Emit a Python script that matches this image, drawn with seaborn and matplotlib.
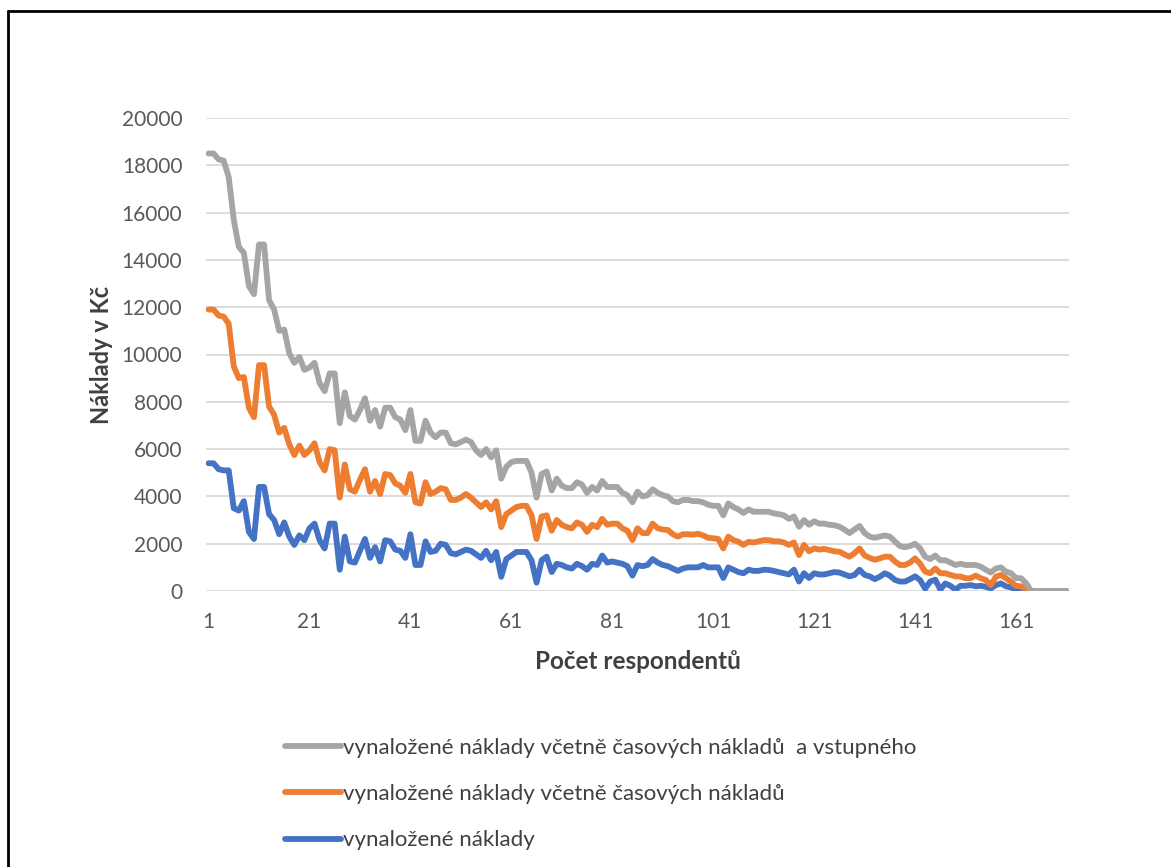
import numpy as np
import pandas as pd
import matplotlib
matplotlib.use("Agg")
import matplotlib.pyplot as plt
from matplotlib.lines import Line2D
import seaborn as sns

# ---- data ----
respondents = list(range(1, 172))

naklady_cas_vstup = [
    18500, 18500, 18250, 18200, 17500, 15700, 14550, 14300, 12900, 12550, 14650, 14650,
    12300, 11900, 11000, 11050, 10050, 9650, 9900, 9350, 9450, 9650, 8800, 8450, 9200, 9200, 7100,
    8400, 7400, 7250, 7650, 8150, 7200, 7650, 6950, 7750, 7750, 7350, 7250, 6800, 7650, 6350,
    6350, 7200, 6700, 6500, 6700, 6700, 6250, 6200, 6300, 6400, 6300, 5950, 5750,
    6000, 5650, 5950, 4750, 5250, 5450, 5500, 5500, 5500, 5000, 3950, 4950, 5050, 4250, 4750,
    4450, 4350, 4350, 4600, 4500, 4150, 4400, 4250, 4650, 4400, 4400, 4400,
    4150, 4050, 3750, 4200, 4000, 4050, 4300, 4150, 4050, 4000, 3800, 3750, 3850, 3850, 3800,
    3800, 3750, 3650, 3600, 3600, 3200, 3700, 3550, 3450, 3300, 3450, 3350, 3350,
    3350, 3350, 3280, 3250, 3200, 3050, 3150, 2720, 3000, 2800, 2950, 2850, 2850, 2800, 2780,
    2720, 2600, 2450, 2600, 2750, 2450, 2300, 2250, 2300, 2350,
    2300, 2100, 1900, 1850, 1900, 2000, 1800, 1450, 1350, 1500, 1300, 1300, 1200, 1100, 1150,
    1100, 1100, 1100, 1030, 900, 780, 950, 1000, 820, 750, 550, 540, 330,
    0, 0, 0, 0, 0, 0, 0, 0,
]

naklady_cas = [
    11900, 11900, 11650, 11600, 11300, 9500, 9000, 9050, 7750, 7350, 9550, 9550,
    7800, 7450, 6700, 6900, 6200, 5750, 6150, 5750, 5950, 6250, 5450, 5100, 6000, 5950, 3950,
    5350, 4300, 4200, 4700, 5150, 4200, 4650, 4100, 4950, 4900, 4550, 4450, 4150, 4950, 3750,
    3700, 4600, 4100, 4200, 4350, 4300, 3850, 3850, 3950, 4100, 3950, 3750, 3550,
    3750, 3450, 3800, 2700, 3250, 3400, 3550, 3600, 3600, 3200, 2200, 3150, 3200, 2550, 3000,
    2800, 2700, 2650, 2900, 2800, 2500, 2800, 2700, 3050, 2800, 2850, 2850,
    2650, 2550, 2150, 2650, 2450, 2450, 2850, 2650, 2600, 2580, 2400, 2300, 2400, 2400, 2380,
    2420, 2350, 2250, 2230, 2200, 1800, 2300, 2150, 2080, 1950, 2080, 2050, 2100,
    2150, 2150, 2100, 2100, 2050, 1950, 2050, 1520, 1950, 1680, 1800, 1750, 1780, 1730, 1680,
    1660, 1550, 1450, 1600, 1800, 1500, 1400, 1320, 1380, 1450,
    1450, 1250, 1100, 1100, 1200, 1380, 1150, 820, 750, 950, 750, 750, 680, 620, 610,
    540, 540, 650, 540, 470, 250, 600, 680, 540, 400, 220, 200, 80,
    0, 0, 0, 0, 0, 0, 0, 0,
]

naklady = [
    5400, 5400, 5150, 5100, 5100, 3500, 3400, 3800, 2500, 2200, 4400, 4400,
    3250, 3000, 2400, 2900, 2300, 1950, 2350, 2150, 2650, 2850, 2150, 1800, 2850, 2850, 900,
    2300, 1250, 1200, 1700, 2200, 1400, 1850, 1250, 2150, 2100, 1750, 1700, 1400, 2400, 1100,
    1100, 2100, 1650, 1700, 2000, 1950, 1600, 1550, 1650, 1750, 1700, 1550, 1400,
    1700, 1300, 1650, 600, 1350, 1500, 1650, 1650, 1650, 1300, 350, 1300, 1450, 800, 1150,
    1100, 1000, 950, 1150, 1050, 900, 1150, 1100, 1500, 1200, 1250, 1200,
    1150, 1050, 650, 1100, 1050, 1100, 1350, 1200, 1100, 1050, 950, 850, 950, 1000, 1000,
    1000, 1100, 1000, 1000, 1000, 550, 1000, 900, 800, 750, 900, 850, 850,
    900, 890, 850, 800, 750, 700, 900, 400, 750, 550, 750, 700, 700, 750, 800,
    780, 700, 620, 680, 900, 680, 620, 500, 600, 750,
    650, 470, 400, 400, 500, 620, 460, 100, 400, 480, 60, 320, 220, 60, 220,
    220, 250, 200, 220, 180, 110, 250, 320, 200, 150, 60, 30, 0,
    0, 0, 0, 0, 0, 0, 0, 0,
]

series_names = [
    "vynaložené náklady včetně časových nákladů  a vstupného",
    "vynaložené náklady včetně časových nákladů",
    "vynaložené náklady",
]
series_colors = ["#A5A5A5", "#ED7D31", "#4472C4"]
x_ticks = [1, 21, 41, 61, 81, 101, 121, 141, 161]
y_ticks = [0, 2000, 4000, 6000, 8000, 10000, 12000, 14000, 16000, 18000, 20000]

# ---- long table ----
df = pd.concat([
    pd.DataFrame({"resp": respondents, "val": naklady_cas_vstup, "serie": series_names[0]}),
    pd.DataFrame({"resp": respondents, "val": naklady_cas, "serie": series_names[1]}),
    pd.DataFrame({"resp": respondents, "val": naklady, "serie": series_names[2]}),
])

sns.set_theme(style="white")
plt.rcParams["font.family"] = ["Lato", "DejaVu Sans"]

W, H = 1171, 867
fig = plt.figure(figsize=(W / 100, H / 100), dpi=100)
fig.patch.set_facecolor("white")

L, R, T, B = 206, 1069, 118, 591
ax = fig.add_axes([L / W, 1 - B / H, (R - L) / W, (B - T) / H])

palette = dict(zip(series_names, series_colors))
draw_order = [series_names[2], series_names[1], series_names[0]]
sns.lineplot(data=df, x="resp", y="val", hue="serie", hue_order=draw_order,
             palette=palette, linewidth=4.2, ax=ax, legend=False,
             estimator=None, sort=False)
for ln in ax.lines:
    ln.set_solid_joinstyle("round")
    ln.set_solid_capstyle("round")

ax.set_xlim(0.5, 171.5)
ax.set_ylim(0, 20000)
ax.set_xticks(x_ticks)
ax.set_xticklabels([str(t) for t in x_ticks])
ax.set_yticks(y_ticks)
ax.set_yticklabels([str(t) for t in y_ticks])
ax.yaxis.grid(True, color="#D9D9D9", linewidth=1.3)
ax.xaxis.grid(False)
ax.set_axisbelow(True)
for s in ax.spines.values():
    s.set_visible(False)
ax.tick_params(axis="both", length=0, labelsize=15, labelcolor="#595959")
ax.tick_params(axis="y", pad=17)
ax.tick_params(axis="x", pad=15)

ax.set_xlabel("Počet respondentů", fontsize=17.5, fontweight="bold", color="#404040")
ax.set_ylabel("Náklady v Kč", fontsize=17, fontweight="bold", color="#404040")
ax.xaxis.set_label_coords(0.5, -0.125)
ax.yaxis.set_label_coords(-0.108, 0.5)

handles = [Line2D([0], [0], color=c, linewidth=4.2, solid_capstyle="round")
           for c in series_colors]
leg = fig.legend(handles, series_names, loc="upper left",
                 bbox_to_anchor=(285 / W, 1 - 738 / H), frameon=False,
                 fontsize=16, handlelength=2.5, handletextpad=0.1,
                 labelspacing=1.18, borderpad=0, borderaxespad=0)
for t in leg.get_texts():
    t.set_color("#404040")

# outer chart border (top and left visible in the reference)
fig.add_artist(Line2D([8 / W, 8 / W], [0, 1 - 11 / H], color="black", linewidth=2,
                      transform=fig.transFigure))
fig.add_artist(Line2D([8 / W, 1], [1 - 11 / H, 1 - 11 / H], color="black", linewidth=2,
                      transform=fig.transFigure))

fig.savefig("out.png", dpi=100, facecolor="white")
